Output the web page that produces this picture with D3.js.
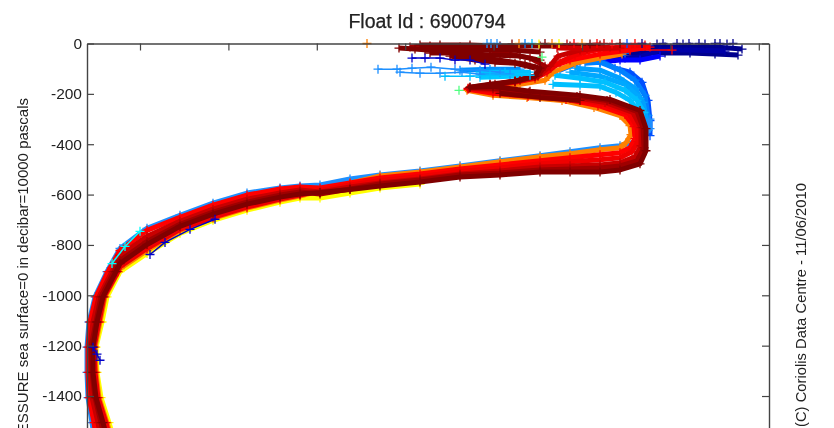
<!DOCTYPE html>
<html><head><meta charset="utf-8">
<script src="https://cdn.jsdelivr.net/npm/d3@7"></script>
<style>html,body{margin:0;background:#fff;overflow:hidden}svg{display:block;filter:blur(.35px)}text{font-family:"Liberation Sans",Arial,sans-serif;fill:#222}</style>
</head><body><script>
const titleText="Float Id : 6900794";
const yLabel="PRESSURE sea surface=0 in decibar=10000 pascals";
const creditText="(C) Coriolis Data Centre - 11/06/2010";
const yTicks=[0,-200,-400,-600,-800,-1000,-1200,-1400];
const xTicks=[53,141.4,229.8,318.2,406.6,495,583.4,671.8].slice(0,8);
// profiles: [measured value, pressure]; x units are unlabelled in the source
const db1=[[655,-22],[628,-14],[603,-14],[578,-14],[558,-18],[538,-26]];
const db2=[[651,-46],[628,-42],[603,-38],[578,-38],[558,-38],[538,-38]];
const db3=[[638,-30],[603,-26],[573,-26],[553,-54],[538,-58],[525,-58]];
const b0=[[573,-50],[553,-66],[533,-66],[513,-74]];
const b1=[[513,-66],[528,-98],[543,-114],[555,-154],[561,-226],[563,-306],[563,-366]];
const b2=[[498,-78],[513,-74],[533,-106],[548,-146],[558,-206],[561,-286],[561,-346]];
const b6=[[473,-106],[493,-74],[513,-46],[538,-38]];
const b3=[[488,-98],[513,-106],[533,-138],[548,-178],[556,-234],[560,-306]];
const b7=[[483,-114],[513,-130],[538,-162],[553,-218]];
const b4=[[468,-126],[493,-138],[518,-154],[538,-186],[550,-226],[557,-274]];
const b5=[[466,-162],[493,-166],[513,-170],[529,-194],[543,-226],[553,-274]];
const cy1=[[393,-114],[418,-114],[443,-114]];
const cy2=[[393,-134],[423,-130],[443,-126]];
const cy3=[[373,-106],[403,-102],[433,-102]];
const pA=[[563,-300],[563,-338],[553,-386],[533,-406],[513,-414],[483,-430],[453,-446],[413,-466],[373,-486],[333,-506],[293,-522],[263,-538],[233,-562],[213,-566],[193,-574],[160,-594],[126,-634],[93,-682],[60,-734],[33,-814],[20,-906],[8,-1006],[2,-1106],[0,-1206],[0,-1306],[1,-1406],[5,-1506],[9,-1610]];
const pB=[[333,-558],[293,-574],[263,-594],[233,-614],[213,-614],[193,-630],[160,-662],[126,-702],[93,-754],[60,-834],[33,-906],[20,-1006],[15,-1106],[9,-1206],[10,-1306],[14,-1406],[22,-1506],[30,-1610]];
const pC=[[535,-42],[513,-58],[488,-78],[466,-114],[458,-146],[433,-162],[403,-170],[380,-186],[406,-206],[440,-214],[475,-226],[507,-254],[533,-286],[543,-326],[544,-362],[539,-394],[533,-414],[513,-422],[483,-438],[453,-450],[413,-470],[373,-490],[333,-510],[293,-526],[263,-555],[233,-585],[213,-606],[193,-622],[160,-654],[126,-694],[93,-742],[60,-822],[33,-894],[18,-1006],[13,-1106],[8,-1206],[9,-1306],[12,-1406],[20,-1506],[28,-1610]];
const pD=[[563,-14],[543,-26],[513,-42],[483,-66],[461,-98],[448,-130],[428,-150],[403,-166],[381,-182],[406,-198],[441,-210],[479,-222],[511,-246],[538,-282],[547,-330],[548,-378],[543,-414],[533,-434],[513,-442],[483,-454],[453,-466],[413,-482],[373,-498],[333,-518],[293,-534],[263,-554],[233,-574],[213,-570],[193,-578],[160,-602],[126,-642],[93,-690],[60,-742],[33,-822],[21,-906],[9,-1006],[3,-1106],[1,-1206],[1,-1306],[2,-1406],[7,-1506],[11,-1610]];
const pE=[[558,-6],[533,-14],[508,-26],[488,-46],[473,-74],[460,-114],[448,-138],[428,-154],[403,-166],[381,-178],[406,-190],[441,-202],[483,-218],[514,-238],[542,-278],[550,-330],[551,-390],[545,-430],[533,-454],[513,-462],[483,-470],[453,-478],[413,-494],[373,-508],[333,-528],[293,-544],[263,-562],[233,-584],[213,-602],[193,-618],[160,-650],[126,-690],[93,-738],[60,-814],[33,-886],[31,-906],[17,-1006],[12,-1106],[7,-1206],[8,-1306],[11,-1406],[19,-1506],[26,-1610]];
const pF=[[523,-14],[493,-26],[471,-50],[463,-90],[451,-130],[428,-150],[403,-166],[382,-178],[406,-182],[442,-198],[487,-214],[518,-234],[546,-274],[554,-334],[554,-406],[548,-450],[533,-474],[513,-482],[483,-486],[453,-490],[413,-506],[373,-518],[333,-538],[293,-554],[263,-570],[233,-590],[213,-582],[193,-594],[160,-618],[126,-658],[93,-706],[60,-766],[33,-842],[25,-906],[12,-1006],[6,-1106],[3,-1206],[3,-1306],[5,-1406],[11,-1506],[16,-1610]];
const pG=[[323,-14],[343,-10],[373,-14],[403,-26],[423,-42],[443,-58],[458,-90],[451,-126],[433,-146],[408,-162],[383,-174],[406,-178],[442,-194],[490,-210],[520,-226],[550,-270],[556,-334],[557,-414],[550,-466],[533,-486],[513,-494],[483,-498],[453,-502],[413,-514],[373,-522],[333,-542],[293,-558],[263,-578],[233,-598],[213,-590],[193,-602],[160,-630],[126,-670],[93,-718],[60,-786],[33,-862],[27,-906],[14,-1006],[9,-1106],[4,-1206],[5,-1306],[8,-1406],[14,-1506],[20,-1610]];
const pH=[[312,-18],[328,-22],[353,-30],[383,-50],[413,-66],[438,-82],[453,-98],[448,-130],[428,-150],[403,-162],[383,-174],[406,-170],[443,-190],[493,-206],[523,-222],[553,-266],[559,-338],[559,-426],[553,-478],[533,-502],[513,-510],[483,-510],[453,-510],[413,-522],[373,-530],[333,-550],[293,-566],[263,-580],[233,-592],[213,-598],[193,-610],[160,-638],[126,-678],[93,-726],[60,-798],[33,-874],[29,-906],[16,-1006],[10,-1106],[6,-1206],[6,-1306],[9,-1406],[16,-1506],[23,-1610]];
const m1=[[513,-6],[483,-10],[453,-10],[413,-10],[383,-6],[353,-6],[333,-6]];
const m2=[[453,-34],[423,-26],[393,-26],[363,-22],[338,-26]];
const m3=[[453,-66],[433,-50],[403,-46],[373,-38],[343,-38]];
const m4=[[448,-98],[428,-78],[408,-74],[388,-66],[363,-50]];
const m5=[[533,-18],[500,-20],[470,-18]];
const m6=[[413,-198],[453,-214],[493,-226]];
const deepBlue=[[63,-838],[78,-790],[103,-738],[128,-698]];
const deepBlue2=[[6,-1206],[10,-1234],[13,-1258]];
const deepCyan=[[25,-874],[38,-806],[53,-746]];
const thickProfiles=[db1,db2,db3,b0,b1,b2,b6,b3,b7,b4,b5,cy3,cy1,cy2,pA,pB,pC,pD,pE,pF,pG,pH,m1,m2,m3,m4,m5,m6];
const thickColors=["#00008f","#00008f","#0000a8","#0000ff","#0050ff","#0080ff","#0070ff","#00a0ff","#00a8ff","#00bfff","#00bfff","#0090ff","#00bfff","#00c8ff","#1e90ff","#ffff00","#ff8000","#ff0000","#f00000","#c80000","#a00000","#800000","#800000","#800000","#800000","#800000","#d00000","#800000"];
// thin traces drawn with visible separate markers
const l1=[[291,-102],[310,-102],[325,-98],[344,-94],[368,-102],[393,-106],[413,-114]];
const l2=[[313,-114],[333,-118],[353,-118],[375,-114],[393,-122],[423,-122]];
const l3=[[358,-130],[383,-130],[403,-126],[443,-126]];
const l4=[[325,-58],[338,-58],[353,-58],[368,-66],[383,-66],[398,-82]];
const l5=[[543,-26],[585,-26]];
const thinProfiles=[l1,l2,l3,l4,deepBlue,deepBlue2,deepCyan,l5];
const thinColors=["#1e90ff","#1e90ff","#00bfff","#0000c8","#0000c8","#0000c8","#00ffff","#ff0000"];
// near-surface samples
const surfaceX=[280,400,404,410,425,432,438,445,452,458,465,472,480,487,495,503,510,517,525,533,540,548,555,570,576,590,596,602,612,618,628,633,640,646];
const surfaceP=[0,0,0,0,-2,0,0,0,-2,0,0,0,-2,0,0,-2,0,0,-2,0,0,0,0,-2,0,0,-2,0,0,-2,0,0,-2,0];
const surfaceC=["#ff8000","#1e90ff","#1e90ff","#1e90ff","#800000","#ff8000","#0080ff","#00bfff","#ffff00","#800000","#ff8000","#ffff00","#c00000","#ff0000","#ff8000","#800000","#ff0000","#c00000","#ff0000","#800000","#0050ff","#ff0000","#00008f","#00008f","#00008f","#00008f","#00008f","#00008f","#00008f","#00008f","#00008f","#00008f","#00008f","#00008f"];
const loneX=[372,455],loneP=[-186,-54],loneC=["#50ff80","#50ff80"];

const W=834,H=428,L=87,R=769,T=43.5;
const svg=d3.select("body").append("svg").attr("width",W).attr("height",H);
const x=d3.scaleLinear().domain([0,682]).range([L,R]);
const y=d3.scaleLinear().domain([0,-1600]).range([T,T+1600*0.2518]);
const cross={draw(c,s){const r=Math.sqrt(s)/2;c.moveTo(-r,0);c.lineTo(r,0);c.moveTo(0,-r);c.lineTo(0,r);}};
const sym=d3.symbol().type(cross).size(81);
const line=d3.line().x(d=>x(d[0])).y(d=>y(d[1]));
function drawProfile(p,col,w){
  const g=svg.append("g");
  g.append("path").attr("d",line(p)).attr("fill","none").attr("stroke",col).attr("stroke-width",w).attr("stroke-linejoin","round");
  g.selectAll("path.m").data(p).join("path").attr("class","m").attr("d",sym).attr("transform",d=>`translate(${x(d[0])},${y(d[1])})`).attr("fill","none").attr("stroke",col).attr("stroke-width",1.3);
}
thickProfiles.forEach((p,i)=>drawProfile(p,thickColors[i],5));
thinProfiles.forEach((p,i)=>drawProfile(p,thinColors[i],1.5));
surfaceX.forEach((v,i)=>drawProfile([[v,surfaceP[i]]],surfaceC[i],1));
loneX.forEach((v,i)=>drawProfile([[v,loneP[i]]],loneC[i],1));

const axisCol="#444";
function style(g){g.select(".domain").attr("stroke",axisCol).attr("stroke-width",1.4);g.selectAll(".tick line").attr("stroke",axisCol).attr("stroke-width",1.2);}
svg.append("g").attr("transform",`translate(${L},0)`).call(d3.axisLeft(y).tickValues(yTicks).tickFormat(d=>d).tickSizeInner(-7).tickSizeOuter(0).tickPadding(5)).call(style).call(g=>g.selectAll("text").attr("font-size",15.5).attr("fill","#222").style("font-family",'"Liberation Sans"'));
svg.append("g").attr("transform",`translate(${R},0)`).call(d3.axisRight(y).tickValues(yTicks).tickFormat("").tickSizeInner(-7).tickSizeOuter(0)).call(style);
svg.append("g").attr("transform",`translate(0,${T})`).call(d3.axisTop(x).tickValues(xTicks).tickFormat("").tickSizeInner(-7).tickSizeOuter(0)).call(style);
svg.append("text").attr("x",427).attr("y",28).attr("text-anchor","middle").attr("font-size",19.5).attr("stroke","#222").attr("stroke-width",.25).text(titleText);
svg.append("text").attr("transform","translate(28,98) rotate(-90)").attr("text-anchor","end").attr("font-size",15).text(yLabel);
svg.append("text").attr("transform","translate(806,427) rotate(-90)").attr("font-size",14.8).text(creditText);
</script></body></html>
